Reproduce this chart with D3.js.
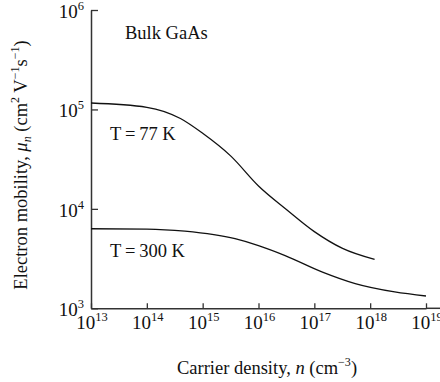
<!DOCTYPE html>
<html>
<head>
<meta charset="utf-8">
<script src="https://cdn.jsdelivr.net/npm/d3@7"></script>
<style>
  html, body { margin: 0; padding: 0; background: #fff; }
  svg { display: block; }
  text { font-family: "Liberation Serif", "Times New Roman", serif; fill: #111; }
</style>
</head>
<body>
<svg id="chart" width="440" height="382"></svg>
<script>
// ---- data ----
const density77 = [1e13, 1e14, 4e14, 1e15, 3.2e15, 1e16, 3.2e16, 1e17, 3.2e17, 1.2e18];
const mobility77 = [116000, 105000, 81000, 57500, 33900, 17000, 9800, 5900, 4000, 3100];
const density300 = [1e13, 1e14, 4.8e14, 3.8e15, 1e16, 3e16, 1.4e17, 5.4e17, 2.75e18, 1e19];
const mobility300 = [6310, 6270, 5960, 5010, 4270, 3390, 2310, 1770, 1460, 1330];
const xTickExps = [13, 14, 15, 16, 17, 18, 19];
const yTickExps = [3, 4, 5, 6];
const labels = [
  { text: "Bulk GaAs", n: 4.06e13, mu: 5.15e5 },
  { text: "T\u2009=\u200977 K", n: 2.19e13, mu: 4.97e4 },
  { text: "T\u2009=\u2009300 K", n: 2.19e13, mu: 3270 }
];

const svg = d3.select("#chart");
const x = d3.scaleLog().domain([1e13, 1e19]).range([91, 426]);
const y = d3.scaleLog().domain([1e3, 1e6]).range([308.3, 10]);

// axes (ticks point inward)
const xAxis = d3.axisBottom(x)
  .tickValues(xTickExps.map(e => Math.pow(10, e)))
  .tickSizeInner(-5).tickSizeOuter(0).tickFormat(() => "");
const yAxis = d3.axisLeft(y)
  .tickValues(yTickExps.map(e => Math.pow(10, e)))
  .tickSizeInner(-7).tickSizeOuter(0).tickFormat(() => "");

const gx = svg.append("g").attr("transform", "translate(0,308.3)").call(xAxis);
const gy = svg.append("g").attr("transform", "translate(91,0)").call(yAxis);
[gx, gy].forEach(g => {
  g.selectAll("path.domain").attr("stroke", "#333").attr("stroke-width", 1.5);
  g.selectAll(".tick line").attr("stroke", "#333").attr("stroke-width", 1.3);
});
// x axis line continues past the last tick to the edge
svg.append("line").attr("x1", x.range()[1]).attr("x2", 440)
  .attr("y1", 308.3).attr("y2", 308.3).attr("stroke", "#333").attr("stroke-width", 1.5);

// tick labels with superscripts
function powLabel(t, e) {
  t.append("tspan").text("10").attr("font-size", 19);
  t.append("tspan").text(e).attr("font-size", 12.5).attr("dy", -8);
}
xTickExps.forEach(e => {
  const t = svg.append("text").attr("x", x(Math.pow(10, e)) + 1).attr("y", 329)
    .attr("text-anchor", "middle");
  powLabel(t, e);
});
yTickExps.forEach(e => {
  const t = svg.append("text").attr("x", 84).attr("y", y(Math.pow(10, e)) + 8)
    .attr("text-anchor", "end");
  powLabel(t, e);
});

// axis titles
const xt = svg.append("text").attr("x", 267).attr("y", 374).attr("text-anchor", "middle")
  .attr("font-size", 18.5);
xt.append("tspan").text("Carrier density, ");
xt.append("tspan").text("n").attr("font-style", "italic");
xt.append("tspan").text(" (cm");
xt.append("tspan").text("\u22123").attr("font-size", 12).attr("dy", -8);
xt.append("tspan").text(")").attr("dy", 8);

const yt = svg.append("text").attr("transform", "translate(27,165) rotate(-90)")
  .attr("text-anchor", "middle").attr("font-size", 18.5);
yt.append("tspan").text("Electron mobility, ");
yt.append("tspan").text("\u03bc").attr("font-style", "italic");
yt.append("tspan").text("n").attr("font-style", "italic").attr("font-size", 12).attr("dy", 4);
yt.append("tspan").text(" (cm").attr("dy", -4);
yt.append("tspan").text("2").attr("font-size", 12).attr("dy", -8);
yt.append("tspan").text(" V").attr("dy", 8);
yt.append("tspan").text("\u22121").attr("font-size", 12).attr("dy", -8);
yt.append("tspan").text("s").attr("dy", 8);
yt.append("tspan").text("\u22121").attr("font-size", 12).attr("dy", -8);
yt.append("tspan").text(")").attr("dy", 8);

// curves
const line = d3.line().x(d => x(d[0])).y(d => y(d[1])).curve(d3.curveMonotoneX);
[[density77, mobility77], [density300, mobility300]].forEach(([ns, mus]) => {
  svg.append("path").datum(ns.map((n, i) => [n, mus[i]]))
    .attr("d", line).attr("fill", "none").attr("stroke", "#111").attr("stroke-width", 1.3);
});

// annotations
labels.forEach(l => {
  svg.append("text").attr("x", x(l.n)).attr("y", y(l.mu)).attr("font-size", 18.5).text(l.text);
});
</script>
</body>
</html>
